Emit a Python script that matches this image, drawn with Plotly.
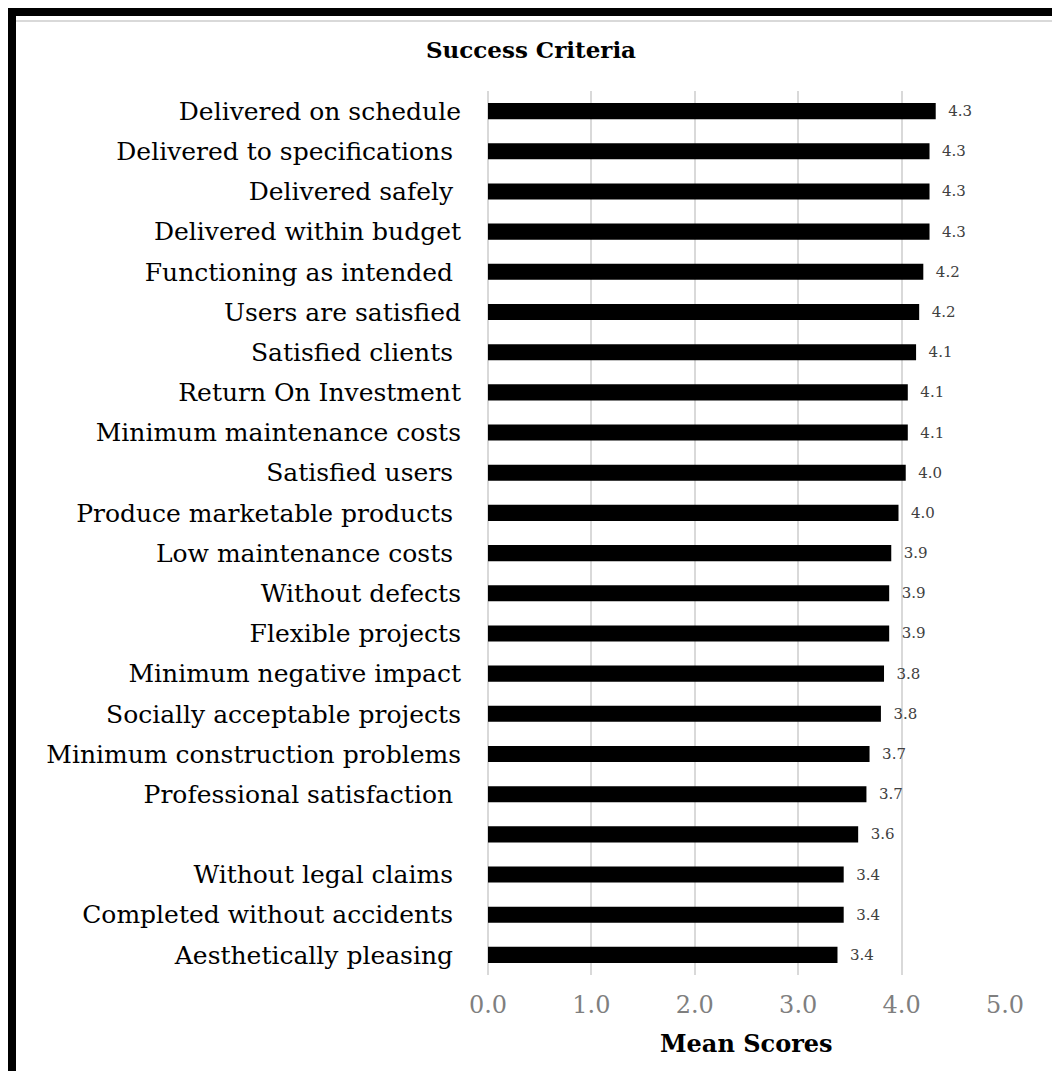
import plotly.graph_objects as go

NBSP = "\u00a0"

categories = [
    "Delivered on schedule",
    "Delivered to specifications" + NBSP,
    "Delivered safely" + NBSP,
    "Delivered within budget",
    "Functioning as intended" + NBSP,
    "Users are satisfied",
    "Satisfied clients" + NBSP,
    "Return On Investment",
    "Minimum maintenance costs",
    "Satisfied users" + NBSP,
    "Produce marketable products" + NBSP,
    "Low maintenance costs" + NBSP,
    "Without defects",
    "Flexible projects",
    "Minimum negative impact",
    "Socially acceptable projects",
    "Minimum construction problems",
    "Professional satisfaction" + NBSP,
    NBSP,
    "Without legal claims" + NBSP,
    "Completed without accidents" + NBSP,
    "Aesthetically pleasing" + NBSP,
]

mean_scores = [
    4.33, 4.27, 4.27, 4.27, 4.21, 4.17, 4.14, 4.06, 4.06, 4.04, 3.97,
    3.90, 3.88, 3.88, 3.83, 3.80, 3.69, 3.66, 3.58, 3.44, 3.44, 3.38,
]

x_ticks = [0, 1, 2, 3, 4, 5]

W, H = 1052, 1071
ML, MR, MT, MB = 488, 47, 91, 96
PW, PH = W - ML - MR, H - MT - MB


def px_x(x):
    return (x - ML) / PW


def px_y(y):
    return (H - MB - y) / PH


fig = go.Figure()
fig.add_trace(go.Bar(
    x=mean_scores,
    y=categories,
    orientation="h",
    marker=dict(color="black", line=dict(width=0)),
    texttemplate=NBSP * 2 + "%{x:.1f}",
    textposition="outside",
    constraintext="none",
    textfont=dict(family="DejaVu Serif", size=15, color="#404040"),
    cliponaxis=False,
    hoverinfo="skip",
))

shapes = [
    # thick black frame (top and left)
    dict(type="rect", xref="paper", yref="paper",
         x0=px_x(8), x1=px_x(W + 5), y0=px_y(16), y1=px_y(8),
         fillcolor="black", line=dict(width=0), layer="above"),
    dict(type="rect", xref="paper", yref="paper",
         x0=px_x(8), x1=px_x(16), y0=px_y(H + 5), y1=px_y(8),
         fillcolor="black", line=dict(width=0), layer="above"),
    # thin grey inner line
    dict(type="line", xref="paper", yref="paper",
         x0=px_x(16), x1=px_x(W + 5), y0=px_y(21), y1=px_y(21),
         line=dict(color="#d9d9d9", width=2)),
]

fig.update_layout(
    width=W, height=H,
    margin=dict(l=ML, r=MR, t=MT, b=MB, pad=0),
    paper_bgcolor="white",
    plot_bgcolor="white",
    showlegend=False,
    bargap=0.6,
    shapes=shapes,
    title=dict(
        text="<b>Success Criteria</b>",
        x=531 / W, xref="container", xanchor="center",
        y=1 - 50 / H, yref="container", yanchor="middle",
        font=dict(family="DejaVu Serif", size=23, color="black"),
    ),
    annotations=[dict(
        text="<b>Mean Scores</b>",
        xref="paper", yref="paper", x=0.5, y=px_y(1043),
        xanchor="center", yanchor="middle", showarrow=False,
        font=dict(family="DejaVu Serif", size=24, color="black"),
    )],
    xaxis=dict(
        range=[0, 5],
        tickvals=x_ticks,
        tickformat=".1f",
        showgrid=True, gridcolor="#d9d9d9", gridwidth=2,
        zeroline=True, zerolinecolor="#d9d9d9", zerolinewidth=2,
        showline=False, ticks="",
        tickfont=dict(family="DejaVu Serif", size=24, color="#7f7f7f"),
        ticklabelstandoff=13,
        fixedrange=True,
    ),
    yaxis=dict(
        type="category",
        autorange="reversed",
        showgrid=False, zeroline=False, showline=False, ticks="",
        tickfont=dict(family="DejaVu Serif", size=25, color="black"),
        ticklabelstandoff=26,
        fixedrange=True,
    ),
)

fig.write_html("out.html")
